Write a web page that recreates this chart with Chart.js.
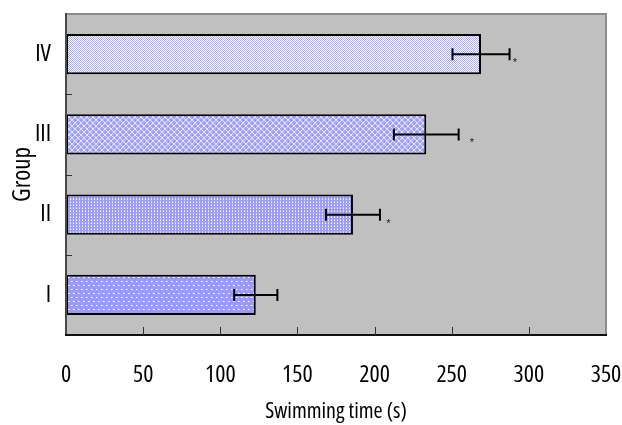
<!DOCTYPE html>
<html>
<head>
<meta charset="utf-8">
<script src="https://cdn.jsdelivr.net/npm/chart.js@4.4.1/dist/chart.umd.min.js"></script>
<style>
  html, body { margin: 0; padding: 0; background: #fff; }
  #wrap { width: 622px; height: 425px; }
</style>
</head>
<body>
<div id="wrap"><canvas id="chart"></canvas></div>
<script>
// groups, bottom to top
const groups = ['I', 'II', 'III', 'IV'];
const swimTime = [123, 186, 233.5, 269];
const swimErr = [14, 17.5, 21, 18.5];
// where the significance star sits (in seconds), null = none
const starAt = [null, 209, 263, 291];
const xTicks = [0, 50, 100, 150, 200, 250, 300, 350];

// narrow look of the original: Open Sans with condensed stretch
const FAMILY = "'Open Sans', 'DejaVu Sans Condensed', sans-serif";
const NARROW = 'normal condensed';

function makePattern(kind) {
  const c = document.createElement('canvas');
  const g = c.getContext('2d');
  if (kind === 'sparse') {
    c.width = 5; c.height = 8;
    g.fillStyle = '#9a9af8'; g.fillRect(0, 0, 5, 8);
    g.fillStyle = '#ffffff'; g.fillRect(1, 1, 1, 1); g.fillRect(3, 5, 1, 1);
    g.fillStyle = '#d4d4fc'; g.fillRect(2, 1, 1, 1); g.fillRect(4, 5, 1, 1);
  } else if (kind === 'dense') {
    c.width = 3; c.height = 3;
    g.fillStyle = '#9c9cfa'; g.fillRect(0, 0, 3, 3);
    g.fillStyle = '#ffffff'; g.fillRect(1, 1, 1, 1);
    g.fillStyle = '#d0d0fc'; g.fillRect(1, 0, 1, 1);
  } else if (kind === 'diamond') {
    c.width = 6; c.height = 6;
    g.fillStyle = '#a6a6fa'; g.fillRect(0, 0, 6, 6);
    g.fillStyle = '#e4e4ff';
    for (let i = 0; i < 6; i++) { g.fillRect(i, i, 1, 1); g.fillRect(5 - i, i, 1, 1); }
    g.fillStyle = '#8a8af4'; g.fillRect(3, 0, 1, 1); g.fillRect(0, 3, 1, 1);
  } else {
    c.width = 2; c.height = 2;
    g.fillStyle = '#ffffff'; g.fillRect(0, 0, 2, 2);
    g.fillStyle = '#aaaafa'; g.fillRect(0, 0, 1, 1); g.fillRect(1, 1, 1, 1);
  }
  return g.createPattern(c, 'repeat');
}

const framePlugin = {
  id: 'frame',
  beforeDatasetsDraw(chart) {
    const { ctx, chartArea: a } = chart;
    ctx.save();
    ctx.fillStyle = '#c0c0c0';
    ctx.fillRect(a.left, a.top, a.right - a.left, a.bottom - a.top);
    ctx.restore();
  },
  afterDatasetsDraw(chart) {
    const { ctx, chartArea: a, scales } = chart;
    const xs = scales.x, ys = scales.y;
    const meta = chart.getDatasetMeta(0);
    ctx.save();
    // error bars
    ctx.strokeStyle = '#000';
    ctx.lineWidth = 2;
    meta.data.forEach((bar, i) => {
      const y = bar.y;
      const x1 = xs.getPixelForValue(swimTime[i] - swimErr[i]);
      const x2 = xs.getPixelForValue(swimTime[i] + swimErr[i]);
      ctx.beginPath();
      ctx.moveTo(x1, y); ctx.lineTo(x2, y);
      ctx.moveTo(x1, y - 6); ctx.lineTo(x1, y + 6);
      ctx.moveTo(x2, y - 6); ctx.lineTo(x2, y + 6);
      ctx.stroke();
      if (starAt[i] !== null) {
        ctx.fillStyle = '#222';
        ctx.font = "11px 'Liberation Sans', sans-serif";
        ctx.textAlign = 'center';
        ctx.textBaseline = 'middle';
        ctx.fillText('*', xs.getPixelForValue(starAt[i]), y + 9);
      }
    });
    // frame
    ctx.lineWidth = 2;
    ctx.strokeStyle = '#8c8c8c';
    ctx.beginPath();
    ctx.moveTo(a.left, a.top); ctx.lineTo(a.right, a.top); ctx.lineTo(a.right, a.bottom);
    ctx.stroke();
    ctx.strokeStyle = '#4a4a4a';
    ctx.beginPath();
    ctx.moveTo(a.left, a.top - 1); ctx.lineTo(a.left, a.bottom);
    ctx.stroke();
    ctx.strokeStyle = '#111';
    ctx.beginPath();
    ctx.moveTo(a.left - 1, a.bottom); ctx.lineTo(a.right + 1, a.bottom);
    ctx.stroke();
    // inward tick marks
    ctx.lineWidth = 1;
    ctx.strokeStyle = '#333';
    ctx.beginPath();
    for (let i = 0; i < groups.length - 1; i++) {
      const yb = Math.round((ys.getPixelForValue(i) + ys.getPixelForValue(i + 1)) / 2) + 0.5;
      ctx.moveTo(a.left, yb); ctx.lineTo(a.left + 6, yb);
    }
    xTicks.slice(1, -1).forEach(v => {
      const xv = Math.round(xs.getPixelForValue(v)) + 0.5;
      ctx.moveTo(xv, a.bottom); ctx.lineTo(xv, a.bottom - 8);
    });
    ctx.stroke();
    ctx.restore();
  }
};

const ctx = document.getElementById('chart').getContext('2d');
Chart.defaults.color = '#000';

new Chart(ctx, {
  type: 'bar',
  data: {
    labels: groups,
    datasets: [{
      label: 'Swimming time',
      data: swimTime,
      backgroundColor: [makePattern('sparse'), makePattern('dense'), makePattern('diamond'), makePattern('fine')],
      borderColor: '#000',
      borderWidth: 2,
      borderSkipped: false,
      barPercentage: 0.5,
      categoryPercentage: 1.0
    }]
  },
  options: {
    indexAxis: 'y',
    responsive: true,
    maintainAspectRatio: false,
    animation: false,
    layout: { padding: { top: 14, right: 16, left: 0, bottom: 0 } },
    plugins: { legend: { display: false }, tooltip: { enabled: false } },
    scales: {
      x: {
        min: 0, max: 350,
        afterBuildTicks: s => { s.ticks = xTicks.map(v => ({ value: v })); },
        afterFit: s => { s.height = 90; s.paddingLeft = 0; s.paddingRight = 0; },
        grid: { display: false, drawTicks: false },
        border: { display: false },
        ticks: { padding: 26, font: { family: FAMILY, weight: NARROW, size: 24 } },
        title: { display: true, text: 'Swimming time (s)', padding: { top: 0, bottom: 0 }, font: { family: FAMILY, weight: NARROW, size: 22 } }
      },
      y: {
        reverse: true,
        afterFit: s => { s.width = 66; s.paddingTop = 0; s.paddingBottom = 0; },
        grid: { display: false, drawTicks: false },
        border: { display: false },
        ticks: { padding: 15, font: { family: FAMILY, weight: NARROW, size: 24 } },
        title: { display: true, text: 'Group', padding: { top: 8, bottom: 0 }, font: { family: FAMILY, weight: NARROW, size: 25 } }
      }
    }
  },
  plugins: [framePlugin]
});
</script>
</body>
</html>
